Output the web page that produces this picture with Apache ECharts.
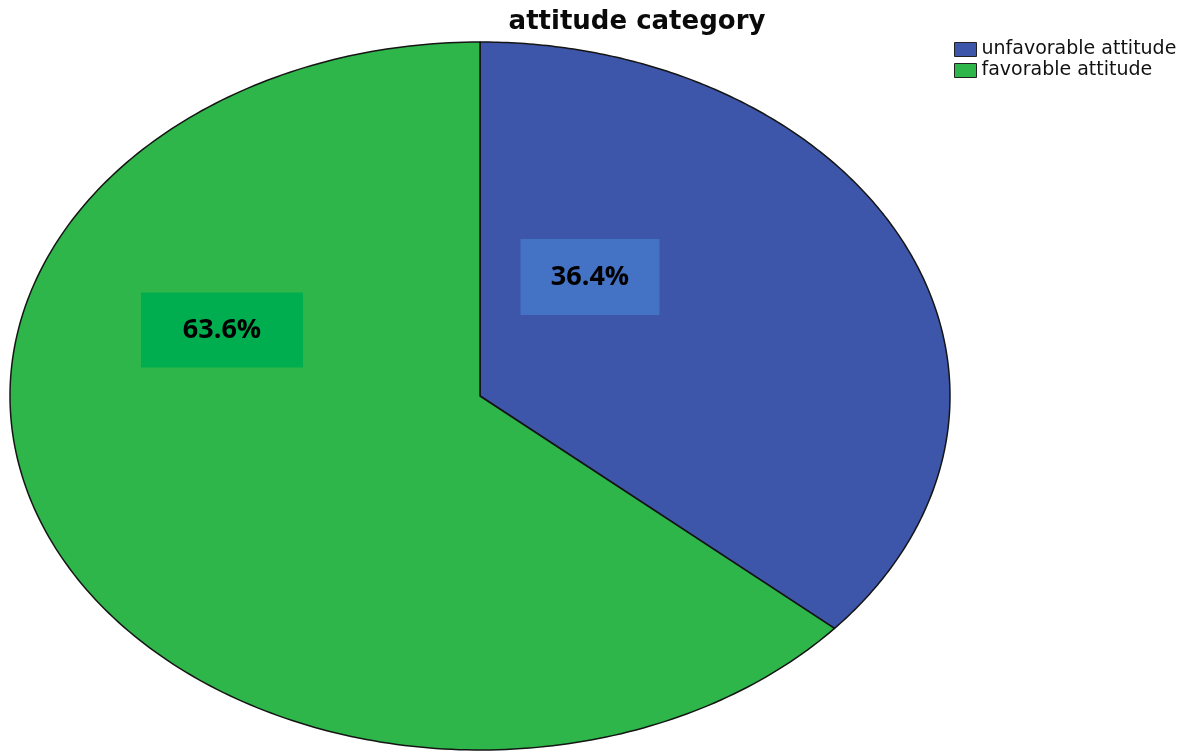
<!DOCTYPE html>
<html>
<head>
<meta charset="utf-8">
<script src="https://cdn.jsdelivr.net/npm/echarts@6/dist/echarts.min.js"></script>
<style>
html,body{margin:0;padding:0;background:#fff;}
#chart{width:1186px;height:752px;}
</style>
</head>
<body>
<div id="chart"></div>
<script>
// ---- data ----
const categories = ['unfavorable attitude', 'favorable attitude'];
const values = [36.4, 63.6];
const labelTexts = ['36.4%', '63.6%'];

// ---- styles / layout ----
const sliceColors = ['#3D56A9', '#2EB64A'];
const labelBg = ['#4472C4', '#00AD4F'];
const labelBoxes = [
  { dx: 110, dy: -119, w: 139, h: 76 },
  { dx: -258, dy: -66, w: 162, h: 75 }
];
const center = { x: 480, y: 396 };
const radii = { rx: 470, ry: 354 };

const total = values.reduce((a, b) => a + b, 0);

function makeRender(i) {
  return function (params, api) {
    const v = api.value(0);
    let before = 0;
    for (let k = 0; k < i; k++) before += values[k];
    const a0 = before / total * Math.PI * 2;
    const a1 = (before + v) / total * Math.PI * 2;
    const pts = [[center.x, center.y]];
    const n = 240;
    for (let s = 0; s <= n; s++) {
      const t = a0 + (a1 - a0) * s / n;
      pts.push([center.x + radii.rx * Math.sin(t), center.y - radii.ry * Math.cos(t)]);
    }
    const b = labelBoxes[i];
    const bx = center.x + b.dx - b.w / 2;
    const by = center.y + b.dy - b.h / 2;
    return {
      type: 'group',
      children: [
        {
          type: 'polygon',
          shape: { points: pts },
          style: { fill: sliceColors[i], stroke: '#151515', lineWidth: 1.5, lineJoin: 'round' }
        },
        {
          type: 'rect',
          shape: { x: bx, y: by, width: b.w, height: b.h },
          style: { fill: labelBg[i] },
          z2: 10
        },
        {
          type: 'text',
          x: center.x + b.dx,
          y: center.y + b.dy,
          style: {
            text: labelTexts[i],
            fill: '#000',
            fontFamily: 'Open Sans',
            fontWeight: 'bold',
            fontSize: 27,
            align: 'center',
            verticalAlign: 'middle'
          },
          z2: 11
        }
      ]
    };
  };
}

const chart = echarts.init(document.getElementById('chart'), null, { renderer: 'canvas' });
chart.setOption({
  animation: false,
  backgroundColor: '#ffffff',
  title: {
    text: 'attitude category',
    left: 632,
    textAlign: 'center',
    top: 4,
    textStyle: { fontFamily: 'DejaVu Sans', fontWeight: 'bold', fontSize: 26, color: '#0a0a0a' }
  },
  legend: {
    orient: 'vertical',
    left: 954,
    top: 40,
    padding: 0,
    itemGap: 2,
    itemWidth: 22,
    itemHeight: 14,
    itemStyle: { borderColor: '#222', borderWidth: 1 },
    icon: 'rect',
    textStyle: { fontFamily: 'DejaVu Sans', fontSize: 19, color: '#111' },
    data: categories
  },
  series: categories.map((name, i) => ({
    type: 'custom',
    name: name,
    coordinateSystem: 'none',
    itemStyle: { color: sliceColors[i] },
    data: [[values[i]]],
    renderItem: makeRender(i)
  }))
});
</script>
</body>
</html>
